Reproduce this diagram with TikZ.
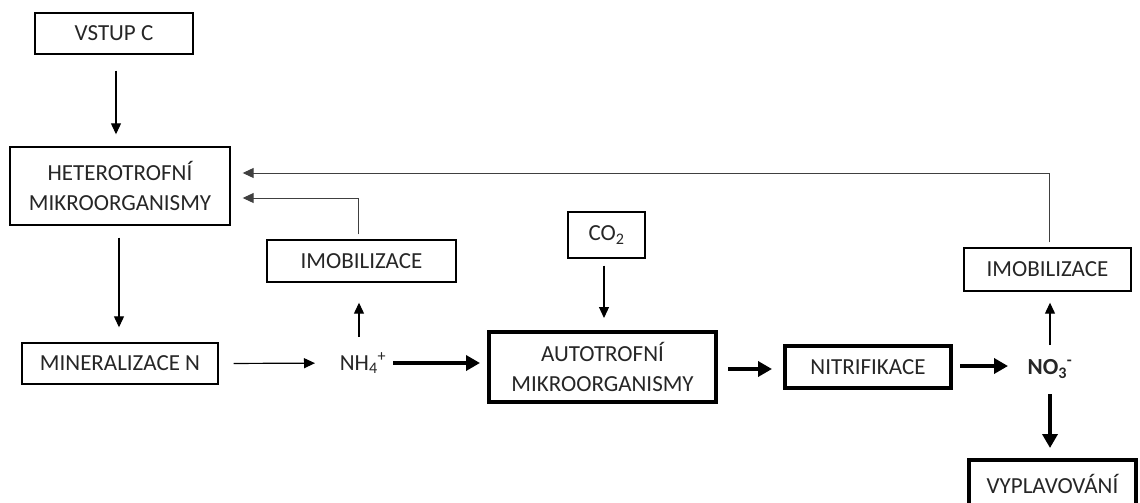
\documentclass[tikz,border=0pt]{standalone}
\usepackage{fontspec}
\setmainfont{Carlito}
\usetikzlibrary{arrows.meta}
\definecolor{txt}{HTML}{262626}
\definecolor{fb}{HTML}{404040}
\begin{document}
\begin{tikzpicture}[x=1pt,y=-1pt,
  every node/.style={font=\fontsize{23}{30}\selectfont, text=txt, align=center, inner sep=0pt},
  box/.style={draw, line width=1.4pt, rectangle},
  tbox/.style={draw, line width=4pt, rectangle},
  thin arrow/.style={line width=1.2pt, -{Triangle[length=11pt,width=10pt]}},
  thick arrow/.style={line width=4.5pt, -{Triangle[length=14pt,width=15pt]}},
  fb arrow/.style={draw=fb, line width=1pt, -{Triangle[length=11pt,width=10pt]}}
]
\useasboundingbox (0,0) rectangle (1140,503);
\fill[white] (0,0) rectangle (1140,503);

\node[box, minimum width=158pt, minimum height=41pt] (vstup) at (114,33.5) {VSTUP C};
\node[box, minimum width=220pt, minimum height=78pt] (het) at (120,186) {HETEROTROFNÍ\\MIKROORGANISMY};
\node[box, minimum width=196pt, minimum height=41pt] (min) at (120,363.5) {MINERALIZACE N};
\node (nh4) at (363,363) {NH\textsubscript{4}\textsuperscript{+}};
\node[box, minimum width=189pt, minimum height=42pt] (imo1) at (361.5,261) {IMOBILIZACE};
\node[box, minimum width=77pt, minimum height=46pt] (co2) at (606.5,235) {CO\textsubscript{2}};
\node[tbox, minimum width=227pt, minimum height=70pt] (aut) at (602.5,367) {AUTOTROFNÍ\\MIKROORGANISMY};
\node[tbox, minimum width=166pt, minimum height=42pt] (nit) at (868,367) {NITRIFIKACE};
\node (no3) at (1050,369) {\textbf{NO\textsubscript{3}\textsuperscript{-}}};
\node[box, minimum width=167pt, minimum height=43pt] (imo2) at (1047.5,269.5) {IMOBILIZACE};
\node[tbox, minimum width=167pt, minimum height=48pt] (vyp) at (1052.5,484) {VYPLAVOVÁNÍ};

% thin arrows
\draw[thin arrow, shorten <=16pt, shorten >=12pt] ([xshift=2pt]vstup.south) -- ([xshift=-4pt]het.north);
\draw[thin arrow, shorten <=12pt, shorten >=15pt] ([xshift=-1pt]het.south) -- ([xshift=-1pt]min.north);
\draw[thin arrow, shorten <=15pt, shorten >=48pt] (min.east) -- (nh4.center);
\draw[thin arrow, shorten <=26pt, shorten >=20pt] ([xshift=-4pt]nh4.center) -- ([xshift=-2.5pt]imo1.south);
\draw[thin arrow, shorten <=7pt, shorten >=12pt] ([xshift=-2.5pt]co2.south) -- ([xshift=1.5pt]aut.north);
\draw[thin arrow, shorten <=24pt, shorten >=11pt] (no3.center) -- ([xshift=2.5pt]imo2.south);

% feedback arrows
\draw[fb arrow, shorten <=5pt, shorten >=12pt] ([xshift=1.5pt]imo2.north) |- ([yshift=13pt]het.east);
\draw[fb arrow, shorten <=5pt, shorten >=12pt] ([xshift=-3.5pt]imo1.north) |- ([yshift=-12pt]het.east);

% thick arrows
\draw[thick arrow, shorten <=30pt, shorten >=7pt] (nh4.center) -- (aut.west |- nh4.center);
\draw[thick arrow, shorten <=10pt, shorten >=11pt] ([yshift=-2pt]aut.east) -- ([yshift=-2pt]nit.west);
\draw[thick arrow, shorten <=7pt, shorten >=42pt] ([yshift=1pt]nit.east) -- ([yshift=1pt]nit.east -| no3.center);
\draw[thick arrow, shorten <=25pt, shorten >=10pt] (no3.center) -- (no3.center |- vyp.north);
\end{tikzpicture}
\end{document}
